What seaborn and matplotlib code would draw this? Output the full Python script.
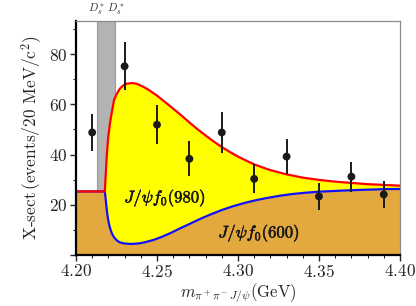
import numpy as np
import pandas as pd
import matplotlib
matplotlib.use("Agg")
import matplotlib.pyplot as plt
import matplotlib.patheffects as pe
from matplotlib.ticker import MultipleLocator, FuncFormatter
import seaborn as sns

# data points (cross section per 20 MeV bin)
mass = [4.21, 4.23, 4.25, 4.27, 4.29, 4.31, 4.33, 4.35, 4.37, 4.39]
xsect = [48.8, 75.2, 51.9, 38.3, 48.8, 30.3, 39.2, 23.3, 31.2, 24.1]
xsect_err = [7.3, 9.5, 7.8, 7.0, 8.0, 5.8, 7.0, 5.3, 6.0, 5.5]

# total fit (red)
tot_m = [4.2000, 4.2178, 4.2180, 4.2183, 4.2186, 4.2190, 4.2195, 4.2200, 4.2210,
         4.2220, 4.2235, 4.2250, 4.2270, 4.2290, 4.2315, 4.2350, 4.2375, 4.2400,
         4.2425, 4.2450, 4.2500, 4.2550, 4.2600, 4.2650, 4.2700, 4.2750, 4.2800,
         4.2850, 4.2900, 4.2950, 4.3000, 4.3050, 4.3100, 4.3150, 4.3200, 4.3300,
         4.3400, 4.3500, 4.3600, 4.3700, 4.3800, 4.3900, 4.4000]
tot_y = [25.3, 25.3, 28.0, 31.5, 35.0, 39.5, 44.0, 47.5, 52.5,
         56.5, 61.8, 64.0, 66.2, 67.5, 68.3, 68.5, 68.2, 67.5,
         66.7, 65.7, 63.5, 60.9, 58.3, 55.6, 52.8, 50.1, 47.6,
         45.2, 43.0, 41.0, 39.2, 37.6, 36.1, 34.9, 33.8, 32.1,
         30.8, 29.9, 29.2, 28.7, 28.2, 27.9, 27.6]

# J/psi f0(600) component (blue)
f600_m = [4.2000, 4.2178, 4.2181, 4.2185, 4.2190, 4.2196, 4.2203, 4.2212, 4.2222,
          4.2235, 4.2250, 4.2270, 4.2295, 4.2325, 4.2355, 4.2390, 4.2430, 4.2480,
          4.2530, 4.2580, 4.2640, 4.2700, 4.2765, 4.2830, 4.2900, 4.2970, 4.3040,
          4.3110, 4.3180, 4.3260, 4.3340, 4.3420, 4.3500, 4.3600, 4.3700, 4.3800,
          4.3900, 4.4000]
f600_y = [25.3, 25.3, 23.5, 21.0, 18.0, 15.0, 12.5, 10.3, 8.5,
          7.0, 5.9, 5.0, 4.6, 4.4, 4.4, 4.6, 5.1, 6.0,
          7.2, 8.6, 10.5, 12.3, 14.3, 16.1, 17.9, 19.4, 20.7,
          21.8, 22.7, 23.6, 24.3, 24.8, 25.2, 25.5, 25.8, 26.0,
          26.2, 26.3]

threshold = (4.2128, 4.2243)   # D_s* D_s* band

sns.set_style("ticks")
plt.rcParams.update({
    "font.family": "serif",
    "font.serif": ["cmr10", "DejaVu Serif"],
    "mathtext.fontset": "cm",
    "axes.unicode_minus": False,
    "font.size": 12,
})

fig = plt.figure(figsize=(4.16, 3.06), dpi=100)
ax = fig.add_axes([0.1827, 0.167, 0.7788, 0.764])

ax.axvspan(*threshold, color="#b3b3b3", ec="#9a9a9a", lw=0.8, zorder=0)

grid = np.union1d(tot_m, f600_m)
tot_i = np.interp(grid, tot_m, tot_y)
f600_i = np.interp(grid, f600_m, f600_y)
ax.fill_between(grid, 0, f600_i, color="#e3a83e", lw=0, zorder=1)
ax.fill_between(grid, f600_i, tot_i, color="#ffff00", lw=0, zorder=1)

sns.lineplot(x=f600_m, y=f600_y, sort=False, color="#1010ff", lw=1.6, ax=ax, zorder=2)
sns.lineplot(x=tot_m, y=tot_y, sort=False, color="#ff0000", lw=1.6, ax=ax, zorder=2)

pts = pd.DataFrame({"m": mass, "y": xsect, "e": xsect_err})
ax.errorbar(pts["m"], pts["y"], yerr=pts["e"], fmt="none", ecolor="#1a1a1a",
            elinewidth=1.4, capsize=0, zorder=3)
sns.scatterplot(data=pts, x="m", y="y", color="#1a1a1a", s=32, edgecolor="none",
                ax=ax, zorder=4)

bold = [pe.withStroke(linewidth=0.4, foreground="#1a1a1a")]
ax.text(4.255, 22.8, r"$J/\psi f_0(980)$", ha="center", va="center",
        fontsize=12, color="#1a1a1a", path_effects=bold, zorder=5)
ax.text(4.313, 8.8, r"$J/\psi f_0(600)$", ha="center", va="center",
        fontsize=12, color="#1a1a1a", path_effects=bold, zorder=5)
ax.text(sum(threshold) / 2, 97.8, r"$D_s^*\,D_s^*$", ha="center", va="center",
        fontsize=8, color="#333333")

ax.set_xlim(4.20, 4.40)
ax.set_ylim(0, 93.2)
ax.xaxis.set_major_locator(MultipleLocator(0.05))
ax.xaxis.set_minor_locator(MultipleLocator(0.01))
ax.yaxis.set_major_locator(MultipleLocator(20))
ax.yaxis.set_minor_locator(MultipleLocator(10))
ax.xaxis.set_major_formatter(FuncFormatter(lambda v, p: f"${v:.2f}$"))
ax.yaxis.set_major_formatter(FuncFormatter(lambda v, p: f"${v:.0f}$" if v > 0 else ""))
ax.tick_params(which="major", direction="out", length=4, width=1, labelsize=12.5, pad=2)
ax.tick_params(which="minor", direction="out", length=2.5, width=0.8)

for s in ["left", "bottom"]:
    ax.spines[s].set_linewidth(1.6)
    ax.spines[s].set_color("black")
for s in ["top", "right"]:
    ax.spines[s].set_linewidth(0.9)
    ax.spines[s].set_color("#8c8c8c")

ax.set_xlabel(r"$m_{\pi^+\pi^-J/\psi}(\mathrm{GeV})$", fontsize=12, labelpad=1)
ax.set_ylabel(r"X-sect$\,$(events/20 MeV/c$^2$)", fontsize=12.5, labelpad=4)

fig.savefig("out.png", dpi=100)
